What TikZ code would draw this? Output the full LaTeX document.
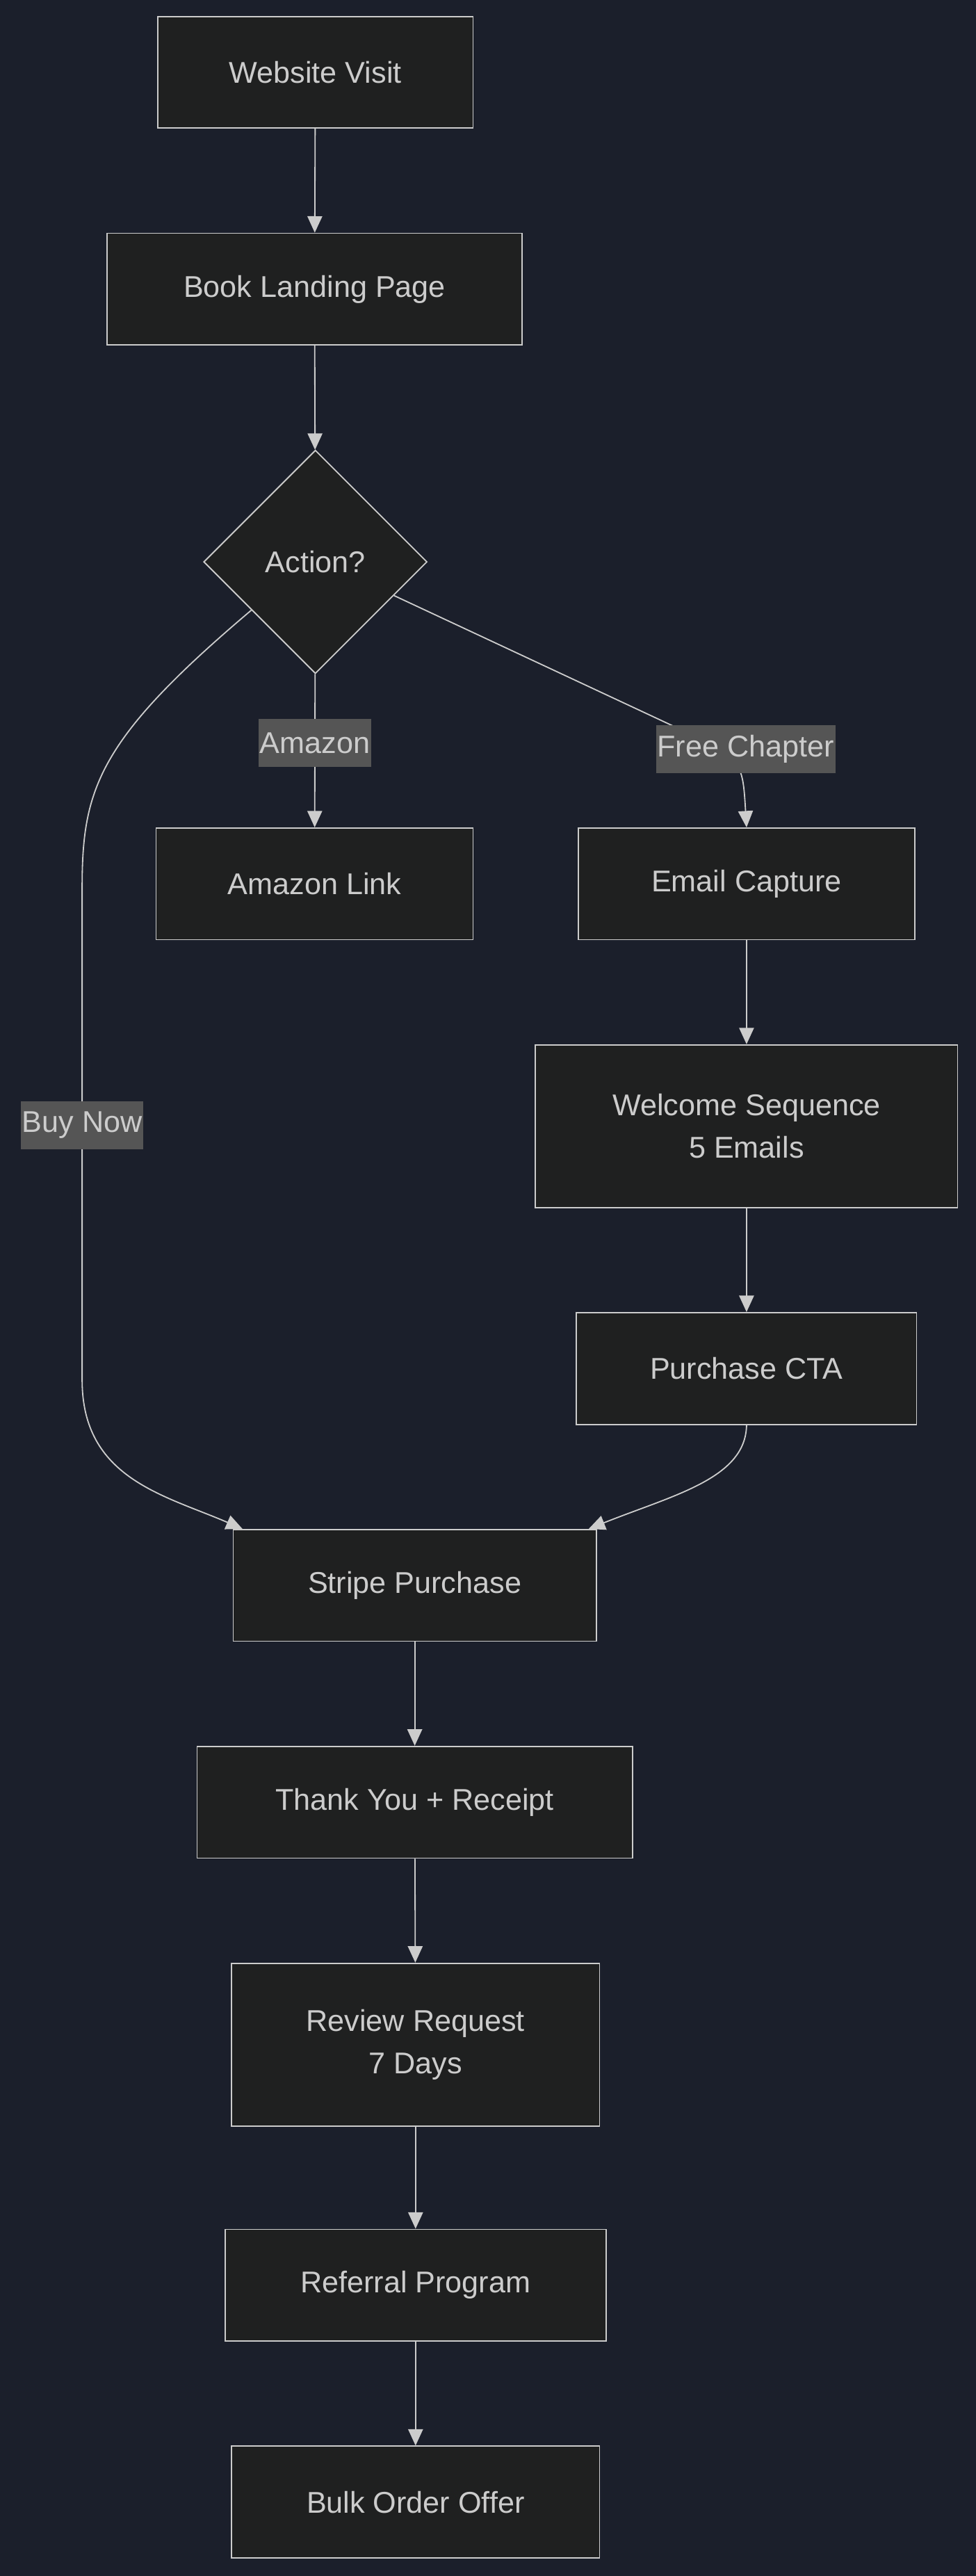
\documentclass[tikz,border=0pt]{standalone}
\usepackage{fontspec}
\setmainfont{Liberation Sans}
\usetikzlibrary{shapes.geometric,arrows.meta,calc}
\definecolor{bgcol}{HTML}{1B1F2B}
\definecolor{boxfill}{HTML}{1F2020}
\definecolor{linecol}{HTML}{CCCCCC}
\definecolor{lblfill}{HTML}{555555}

\begin{document}
\begin{tikzpicture}[x=0.05cm,y=-0.05cm,
    stage/.style={
        draw=linecol,
        fill=boxfill,
        line width=1.1pt,
        text=linecol,
        font=\fontsize{26}{37}\selectfont,
        align=center,
        inner sep=0pt,
        minimum height=3.4cm
        },
    tallstage/.style={stage, minimum height=4.95cm},
    decide/.style={stage, diamond, minimum size=6.8cm, aspect=1},
    edgelabel/.style={
        fill=lblfill,
        text=linecol,
        font=\fontsize{26}{30}\selectfont,
        inner sep=1pt,
        minimum height=1.45cm
        },
    flow/.style={draw=linecol, line width=1.1pt, -{Triangle[length=0.5cm,width=0.45cm]}}
]

\fill[bgcol] (0,0) rectangle (594,1568);
\useasboundingbox (0,0) rectangle (594,1568);

% main column
\node[stage, minimum width=9.6cm] (visit) at (192,44) {Website Visit};
\node[stage, minimum width=12.65cm] (landing) at (191.5,176) {Book Landing Page};
\node[decide] (act) at (192,342) {Action?};
\node[stage, minimum width=9.65cm] (amazon) at (191.5,538) {Amazon Link};

% free chapter branch
\node[stage, minimum width=10.25cm] (ecap) at (454.5,538) {Email Capture};
\node[tallstage, minimum width=12.85cm] (welcome) at (454.5,685.5) {Welcome Sequence\\5 Emails};
\node[stage, minimum width=10.35cm] (cta) at (454.5,833) {Purchase CTA};

% after purchase
\node[stage, minimum width=11.05cm] (stripe) at (252.5,965) {Stripe Purchase};
\node[stage, minimum width=13.25cm] (thanks) at (252.5,1097) {Thank You + Receipt};
\node[tallstage, minimum width=11.2cm] (review) at (253,1244.5) {Review Request\\7 Days};
\node[stage, minimum width=11.6cm] (referral) at (253,1391) {Referral Program};
\node[stage, minimum width=11.2cm] (bulk) at (253,1523) {Bulk Order Offer};

\draw[flow] (visit) -- (landing);
\draw[flow] (landing) -- (act);
\draw[flow] (act) -- (amazon) node[edgelabel, pos=0.45] (lamazon) {Amazon};

\coordinate (actl) at ($(act.west)!0.43!(act.south)$);
\coordinate (actr) at ($(act.east)!0.3!(act.south)$);
\draw[flow] (actl) .. controls (60,450) and (50,480) .. (50,540) -- (50,840)
    .. controls (50,900) and (100,910) .. ($(stripe.north west)+(6,0)$);
\node[edgelabel] (lbuy) at (50,685) {Buy Now};

\draw[flow] (actr) -- (410,442) .. controls (452,462) .. (ecap.north);
\node[edgelabel] (lfree) at (454,456) {Free Chapter};

\draw[flow] (ecap) -- (welcome);
\draw[flow] (welcome) -- (cta);
\draw[flow] (cta.south) .. controls (454,900) and (410,910) .. ($(stripe.north east)+(-5,0)$);

\draw[flow] (stripe) -- (thanks);
\draw[flow] (thanks) -- (review);
\draw[flow] (review) -- (referral);
\draw[flow] (referral) -- (bulk);

\end{tikzpicture}
\end{document}
